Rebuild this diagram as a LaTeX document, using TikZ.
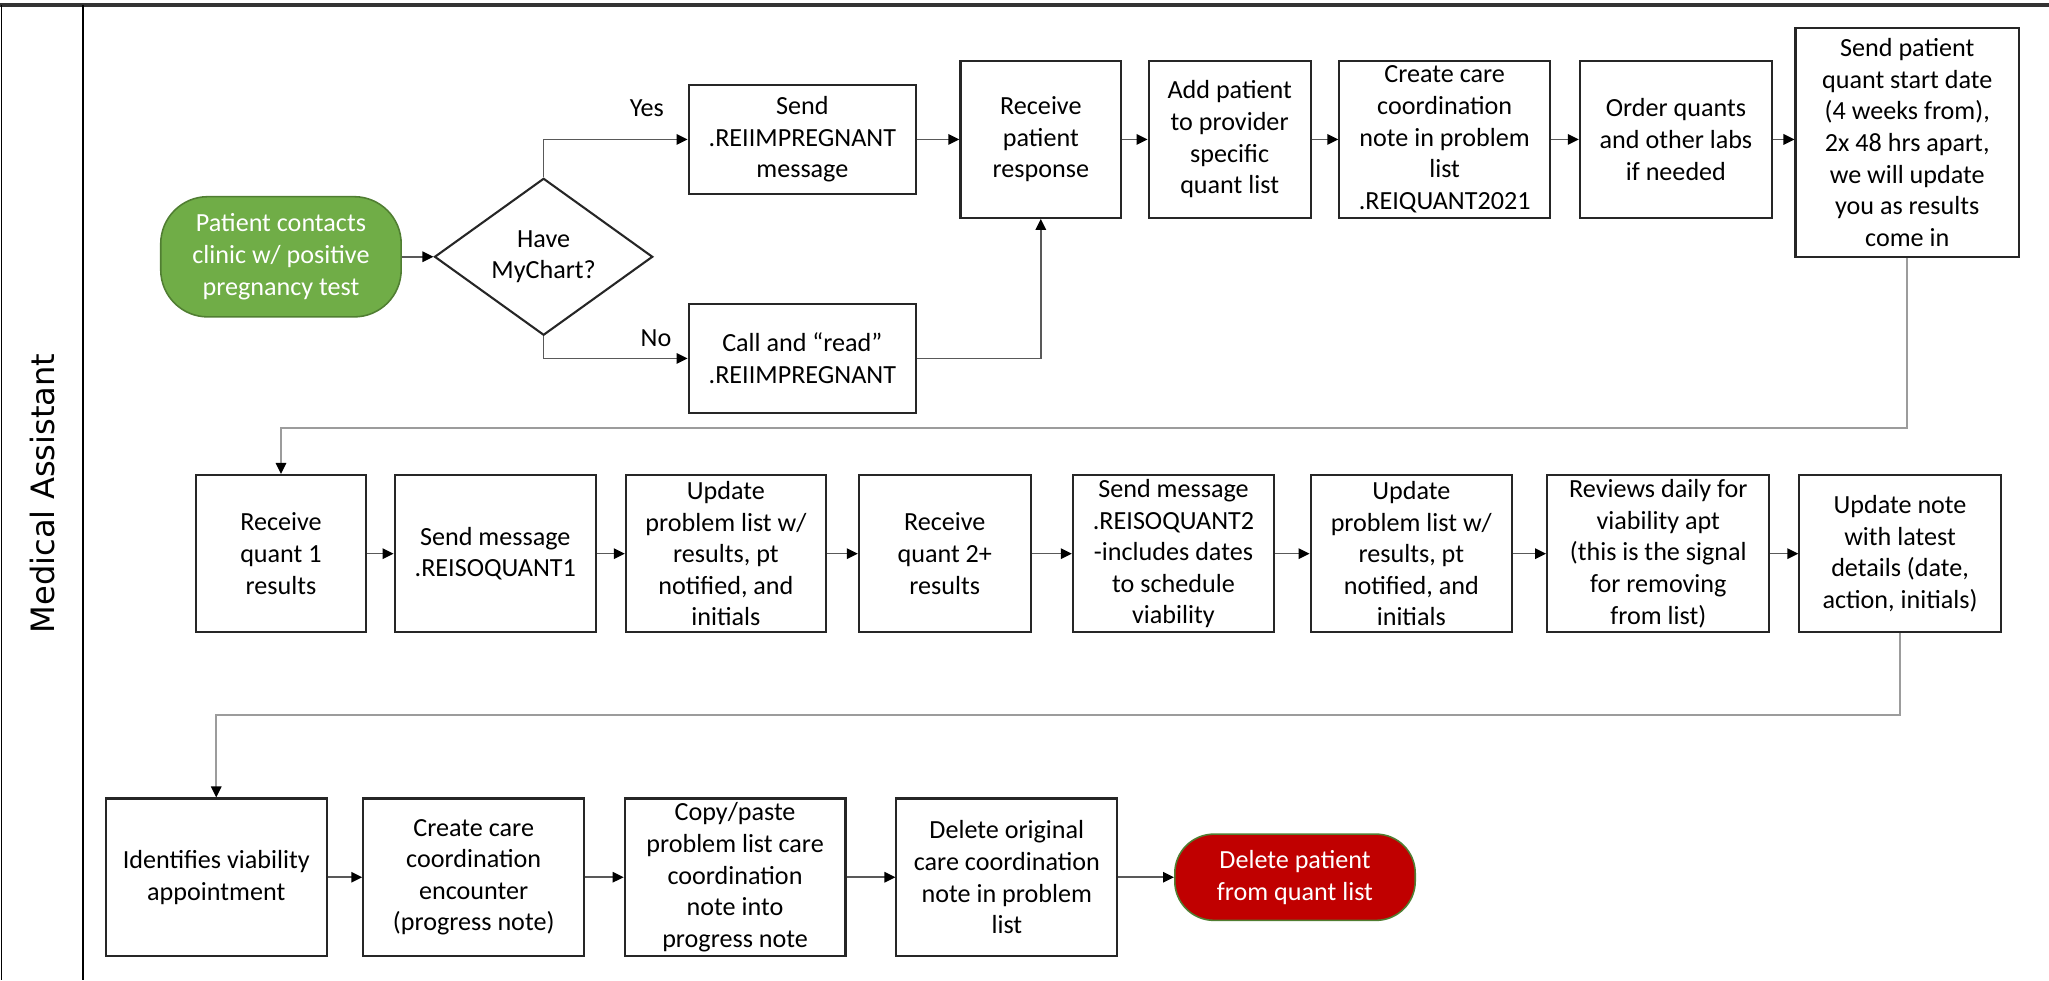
\documentclass[tikz,border=0pt]{standalone}
\usepackage{fontspec}
\setmainfont{Carlito}
\newfontfamily\lanefont{DejaVu Sans}
\usetikzlibrary{arrows.meta,shapes.geometric}
\definecolor{startgreen}{HTML}{70AD47}
\definecolor{startedge}{HTML}{507E32}
\definecolor{endred}{HTML}{C00000}
\definecolor{loopgray}{HTML}{9C9C9C}
\definecolor{flowgray}{HTML}{595959}
\begin{document}
\begin{tikzpicture}[x=0.5pt,y=-0.5pt,
  font=\fontsize{10}{12.1}\selectfont,
  box/.style={draw=black!85, line width=0.8pt, align=center, inner sep=1pt, fill=white},
  terminal/.style={draw=startedge, line width=0.6pt, align=center, inner sep=1pt, text=white, rounded corners=18pt},
  decision/.style={draw=black!85, line width=0.8pt, diamond, align=center, inner sep=0pt},
  flow/.style={draw=flowgray, line width=0.6pt, -{Triangle[length=4.2pt,width=4pt,color=black]}},
  loopback/.style={draw=loopgray, line width=0.6pt, -{Triangle[length=4.2pt,width=4pt,color=black]}},
  lbl/.style={inner sep=0pt}
]
\useasboundingbox (0,0) rectangle (1568,750);

% swimlane frame
\draw[line width=1.2pt, black!80] (0,3.8) -- (1568,3.8);
\draw[line width=0.6pt] (1,3.8) -- (1,750);
\draw[line width=0.6pt] (63.6,3.8) -- (63.6,750);
\node[rotate=90, anchor=base, inner sep=0pt, font=\lanefont\fontsize{12.3}{14}\selectfont] (lane) at (42,377.6) {Medical Assistant};

% row 1
\node[terminal, fill=startgreen, minimum width=92pt, minimum height=46pt] (start) at (215,196.5)
  {Patient contacts\\clinic w/ positive\\pregnancy test};
\node[decision, minimum width=83.5pt, minimum height=54.5pt] (dia) at (416,196.5) {Have\\MyChart?};
\node[box, minimum width=87pt, minimum height=41.75pt] (send) at (614,106.7) {Send\\.REIIMPREGNANT\\message};
\node[box, minimum width=87pt, minimum height=41.7pt] (call) at (614,274.3) {Call and “read”\\.REIIMPREGNANT};
\node[box, minimum width=61.5pt, minimum height=60pt] (recv) at (796.5,106.7) {Receive\\patient\\response};
\node[box, minimum width=62pt, minimum height=60pt] (add) at (941,106.7) {Add patient\\to provider\\specific\\quant list};
\node[box, minimum width=80.5pt, minimum height=60pt] (cc) at (1105.5,106.7) {Create care\\coordination\\note in problem\\list\\.REIQUANT2021};
\node[box, minimum width=73.5pt, minimum height=60pt] (order) at (1282.5,106.7) {Order quants\\and other labs\\if needed};
\node[box, minimum width=85.5pt, minimum height=87.5pt] (sendpt) at (1459.5,109) {Send patient\\quant start date\\(4 weeks from),\\2x 48 hrs apart,\\we will update\\you as results\\come in};

\node[lbl] (yes) at (495,83) {Yes};
\node[lbl] (no) at (502,259) {No};

% row 2
\node[box, minimum width=65pt, minimum height=60.2pt] (rq1) at (215,423.7) {Receive\\quant 1\\results};
\node[box, minimum width=77pt, minimum height=60.2pt] (sm1) at (379,423.7) {Send message\\.REISOQUANT1};
\node[box, minimum width=76.5pt, minimum height=60.2pt] (up1) at (555.5,423.7) {Update\\problem list w/\\results, pt\\notified, and\\initials};
\node[box, minimum width=65.75pt, minimum height=60.2pt] (rq2) at (723,423.7) {Receive\\quant 2+\\results};
\node[box, minimum width=77pt, minimum height=60.2pt] (sm2) at (898,423.7) {Send message\\.REISOQUANT2\\-includes dates\\to schedule\\viability};
\node[box, minimum width=77pt, minimum height=60.2pt] (up2) at (1080,423.7) {Update\\problem list w/\\results, pt\\notified, and\\initials};
\node[box, minimum width=85pt, minimum height=60.2pt] (rev) at (1269,423.7) {Reviews daily for\\viability apt\\(this is the signal\\for removing\\from list)};
\node[box, minimum width=77pt, minimum height=60.2pt] (un) at (1454,423.7) {Update note\\with latest\\details (date,\\action, initials)};

% row 3
\node[box, minimum width=84.5pt, minimum height=60.25pt] (ident) at (165.5,671.3) {Identifies viability\\appointment};
\node[box, minimum width=84.5pt, minimum height=60.25pt] (cce) at (362.5,671.3) {Create care\\coordination\\encounter\\(progress note)};
\node[box, minimum width=84.5pt, minimum height=60.25pt] (copy) at (562.5,671.3) {Copy/paste\\problem list care\\coordination\\note into\\progress note};
\node[box, minimum width=84.5pt, minimum height=60.25pt] (del) at (770.5,671.3) {Delete original\\care coordination\\note in problem\\list};
\node[terminal, fill=endred, minimum width=92pt, minimum height=33pt, rounded corners=15pt] (delpt) at (991,671.3) {Delete patient\\from quant list};

% bend heights of the two return lines
\coordinate (bend1) at (0,327.5);
\coordinate (bend2) at (0,547);

% connectors, row 1
\draw[flow] (start) -- (dia);
\draw[flow] (dia.north) |- (send.west);
\draw[flow] (dia.south) |- (call.west);
\draw[flow] (send) -- (recv);
\draw[flow] (call.east) -| (recv.south);
\draw[flow] (recv) -- (add);
\draw[flow] (add) -- (cc);
\draw[flow] (cc) -- (order);
\draw[flow] (order.east) -- (order.east -| sendpt.west);

% return to row 2
\draw[loopback] (sendpt.south) -- (sendpt.south |- bend1) -| (rq1.north);

% connectors, row 2
\draw[flow] (rq1) -- (sm1);
\draw[flow] (sm1) -- (up1);
\draw[flow] (up1) -- (rq2);
\draw[flow] (rq2) -- (sm2);
\draw[flow] (sm2) -- (up2);
\draw[flow] (up2) -- (rev);
\draw[flow] (rev) -- (un);

% return to row 3
\draw[loopback] (un.south) -- (un.south |- bend2) -| (ident.north);

% connectors, row 3
\draw[flow] (ident) -- (cce);
\draw[flow] (cce) -- (copy);
\draw[flow] (copy) -- (del);
\draw[flow] (del) -- (delpt);
\end{tikzpicture}
\end{document}
